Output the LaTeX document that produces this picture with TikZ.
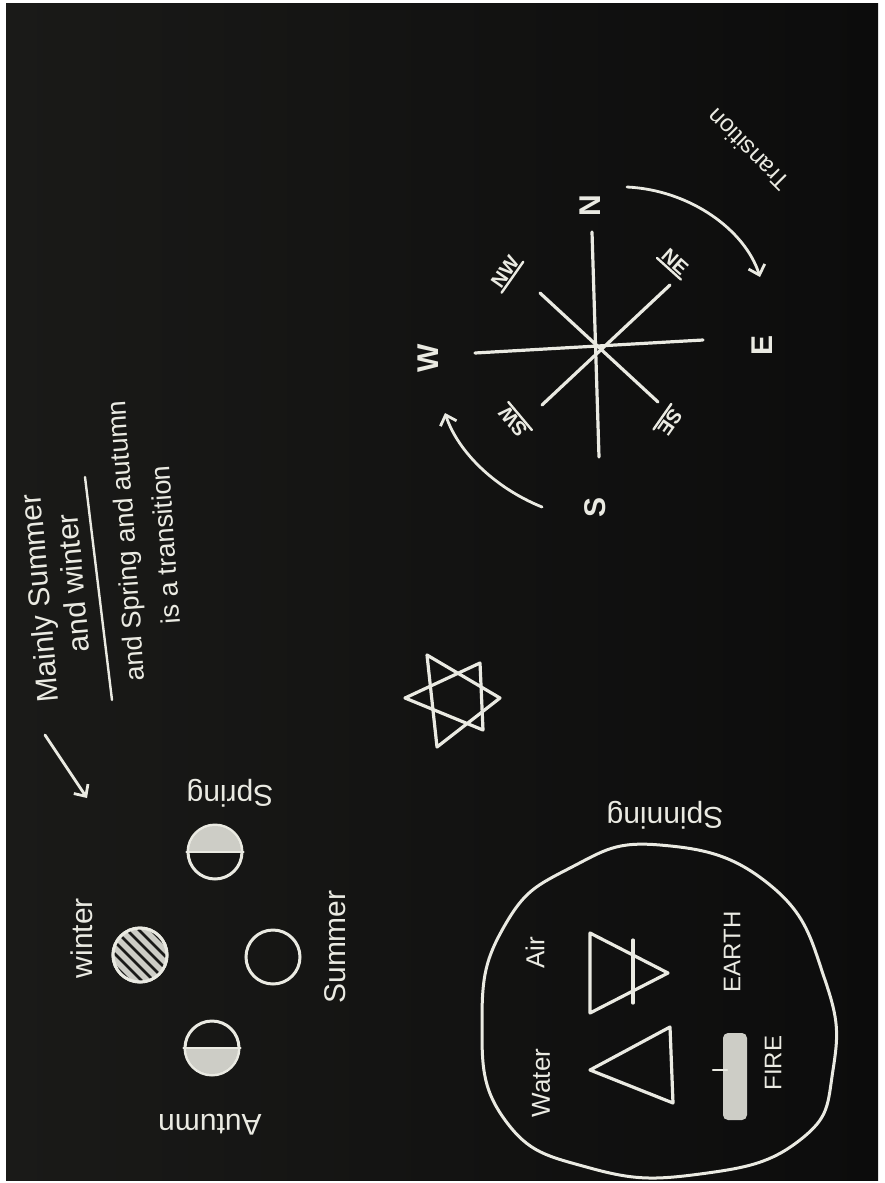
\documentclass[tikz,border=0pt]{standalone}
\usepackage{fontspec}
\setmainfont{Liberation Sans}
\usepackage{xcolor}
\definecolor{board}{RGB}{26, 26, 24}
\definecolor{boarddark}{RGB}{12, 12, 12}
\definecolor{chalk}{RGB}{234, 234, 226}
\definecolor{chalkgray}{RGB}{205, 205, 198}
\usetikzlibrary{arrows.meta, calc}
\tikzset{
  chalkline/.style={draw=chalk, line width=3.2pt, line cap=round, line join=round},
  thinline/.style={draw=chalk, line width=2.4pt, line cap=round},
  chalkarrow/.style={draw=chalk, line width=2.8pt, line cap=round,
    -{Straight Barb[length=9pt, width=17pt]}},
  hand/.style={text=chalk, inner sep=1pt, font=\fontsize{#1}{#1}\selectfont},
  dirlabel/.style={text=chalk, inner sep=1pt, rotate=90,
    font=\fontsize{30}{30}\selectfont\bfseries},
  sublabel/.style={text=chalk, inner sep=2pt,
    font=\fontsize{20}{20}\selectfont\bfseries},
  moon/.style={circle, draw=chalk, line width=3pt, minimum size=54pt, inner sep=0pt}
}

\begin{document}
\begin{tikzpicture}[x=1pt, y=-1pt]
  \useasboundingbox (0,0) rectangle (885,1183);

  %% Board
  \fill[white] (0,0) rectangle (885,1183);
  \shade[left color=board, right color=boarddark] (6,3) rectangle (878,1180);

  %% Note on the seasons
  \node[hand=30, rotate=95] (mainly) at (42,598) {Mainly Summer};
  \node[hand=30, rotate=95] (andwinter) at (73,583) {and winter};
  \coordinate (ulTop) at (85,477);
  \coordinate (ulBot) at (112,700);
  \draw[thinline] (ulBot) -- (ulTop);
  \node[hand=27, rotate=94] (springaut) at (128,541) {and Spring and autumn};
  \node[hand=27, rotate=94] (istrans) at (165,545) {is a transition};
  \coordinate (noteTail) at (45,735);
  \coordinate (noteTip) at (87,798);
  \draw[chalkarrow] (noteTail) -- (noteTip);

  %% Moon phases
  \node[moon] (spring) at (215,852) {};
  \node[moon] (winter) at (140,955) {};
  \node[moon] (summer) at (273,957) {};
  \node[moon] (autumn) at (212,1048) {};
  \begin{scope}
    \clip (spring.center) circle[radius=26pt];
    \fill[chalkgray] ($(spring.center)+(-30,-30)$) rectangle ($(spring.center)+(30,0)$);
  \end{scope}
  \draw[thinline] (spring.west) -- (spring.east);
  \begin{scope}
    \clip (winter.center) circle[radius=26pt];
    \fill[chalkgray] ($(winter.center)+(-30,-30)$) rectangle ($(winter.center)+(30,30)$);
    \foreach \d in {-36,-24,...,36}
      \draw[board, line width=2.5pt] ($(winter.center)+(\d-30,-30)$) -- ++(60,60);
  \end{scope}
  \draw[chalk, line width=3pt] (winter) circle[radius=27pt];
  \begin{scope}
    \clip (autumn.center) circle[radius=26pt];
    \fill[chalkgray] ($(autumn.center)+(-30,0)$) rectangle ($(autumn.center)+(30,30)$);
  \end{scope}
  \draw[thinline] (autumn.west) -- (autumn.east);
  \node[hand=30, rotate=180] (lblSpring) at (230,793) {Spring};
  \node[hand=30, rotate=90] (lblSummer) at (335,947) {Summer};
  \node[hand=30, rotate=180] (lblAutumn) at (210,1125) {Autumn};
  \node[hand=30, rotate=90] (lblWinter) at (82,938) {winter};

  %% Star
  \draw[chalkline] (427,655) -- (500,698) -- (437,747) -- cycle;
  \draw[chalkline] (405,698) -- (480,663) -- (483,730) -- cycle;

  %% Compass
  \coordinate (nTop) at (592,232);
  \coordinate (sBot) at (599,457);
  \coordinate (wEnd) at (475,353);
  \coordinate (eEnd) at (703,340);
  \coordinate (nwEnd) at (540,293);
  \coordinate (seEnd) at (658,402);
  \coordinate (neEnd) at (670,285);
  \coordinate (swEnd) at (542,405);
  \draw[chalkline] (nTop) -- (sBot);
  \draw[chalkline] (wEnd) -- (eEnd);
  \draw[chalkline] (nwEnd) -- (seEnd);
  \draw[chalkline] (neEnd) -- (swEnd);

  \node[dirlabel] (lblN) at (590,206) {N};
  \node[dirlabel] (lblE) at (762,345) {E};
  \node[dirlabel] (lblW) at (428,358) {W};
  \node[dirlabel] (lblS) at (595,507) {S};
  \node[sublabel, rotate=55] (lblNW) at (505,272) {NW};
  \node[sublabel, rotate=-42] (lblNE) at (675,262) {NE};
  \node[sublabel, rotate=-125] (lblSE) at (670,422) {SE};
  \node[sublabel, rotate=130] (lblSW) at (513,422) {SW};
  \foreach \lbl in {lblNW, lblNE, lblSE, lblSW}
    \draw[thinline] (\lbl.south west) -- (\lbl.south east);

  %% Transition arrows
  \coordinate (trStart) at (627,187);
  \coordinate (trEnd) at (760,277);
  \draw[chalkarrow] (trStart) .. controls (690,190) and (745,230) .. (trEnd);
  \node[hand=24, rotate=135] (lblTrans) at (748,150) {Transition};
  \coordinate (swStart) at (542,507);
  \coordinate (swTip) at (445,413);
  \draw[chalkarrow] (swStart) .. controls (495,488) and (458,452) .. (swTip);

  %% Elements
  \node[hand=30, rotate=180] (lblSpin) at (665,815) {Spinning};
  \draw[chalkline, line width=3pt] plot[smooth cycle, tension=0.8] coordinates
    {(660,845) (770,885) (825,980) (833,1070) (800,1140) (700,1174)
     (590,1168) (505,1120) (482,1020) (505,925) (570,868)};
  \draw[chalkline] (590,933) -- (668,973) -- (590,1013) -- cycle;
  \draw[chalkline] (633,940) -- (633,1003);
  \draw[chalkline] (590,1070) -- (670,1027) -- (673,1103) -- cycle;
  \fill[chalkgray, rounded corners=5pt] (723,1033) rectangle (747,1120);
  \draw[thinline] (713,1070) -- (727,1070);
  \node[hand=26, rotate=90] (lblAir) at (535,953) {Air};
  \node[hand=26, rotate=90] (lblWater) at (541,1083) {Water};
  \node[hand=24, rotate=90] (lblEarth) at (732,952) {EARTH};
  \node[hand=24, rotate=90] (lblFire) at (773,1063) {FIRE};
\end{tikzpicture}
\end{document}
